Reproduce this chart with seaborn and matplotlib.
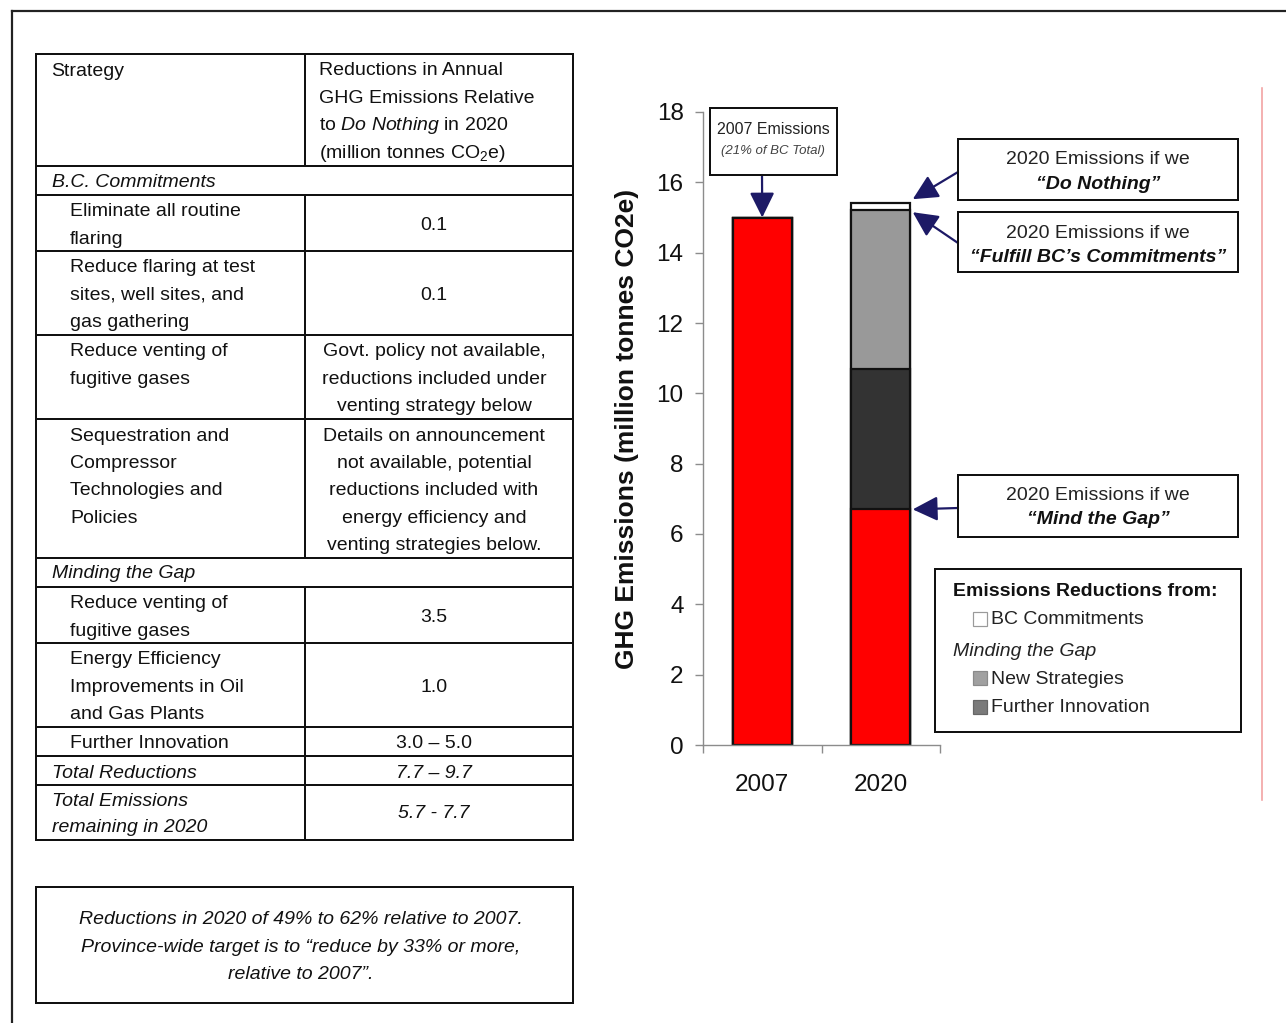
import matplotlib
matplotlib.use("Agg")
import matplotlib.pyplot as plt
from matplotlib import font_manager
from matplotlib.patches import Rectangle
from matplotlib.lines import Line2D
from matplotlib.ticker import FixedLocator
import numpy as np
import pandas as pd
import seaborn as sns

# ---- chart data (million tonnes CO2e) ----
years = ["2007", "2020"]
remaining = [15.0, 6.7]            # emissions left ("Mind the Gap" for 2020)
further_innovation = [0.0, 4.0]
new_strategies = [0.0, 4.5]
bc_commitments = [0.0, 0.2]
y_ticks = [0, 2, 4, 6, 8, 10, 12, 14, 16, 18]

# ---- table text ----
header_left = "Strategy"
header_right = ["Reductions in Annual", "GHG Emissions Relative",
                r"to $\mathit{Do\ Nothing}$ in 2020",
                r"(million tonnes CO$_\mathregular{2}$e)"]
bc_strategies = [["Eliminate all routine", "flaring"],
                 ["Reduce flaring at test", "sites, well sites, and", "gas gathering"],
                 ["Reduce venting of", "fugitive gases"],
                 ["Sequestration and", "Compressor", "Technologies and", "Policies"]]
bc_values = [["0.1"], ["0.1"],
             ["Govt. policy not available,", "reductions included under",
              "venting strategy below"],
             ["Details on announcement", "not available, potential",
              "reductions included with", "energy efficiency and",
              "venting strategies below."]]
gap_strategies = [["Reduce venting of", "fugitive gases"],
                  ["Energy Efficiency", "Improvements in Oil", "and Gas Plants"],
                  ["Further Innovation"]]
gap_values = ["3.5", "1.0", "3.0 \u2013 5.0"]
total_reductions = "7.7 \u2013 9.7"
total_remaining = "5.7 - 7.7"
note_lines = ["Reductions in 2020 of 49% to 62% relative to 2007.",
              "Province-wide target is to \u201creduce by 33% or more,",
              "relative to 2007\u201d."]

sns.set_theme(style="white")

SANS = "Liberation Sans"
try:
    font_manager.findfont(font_manager.FontProperties(family="Liberation Sans Narrow"),
                          fallback_to_default=False)
    NARROW = "Liberation Sans Narrow"
    TFS = 15
except Exception:
    NARROW = "Liberation Sans"
    TFS = 14

plt.rcParams["font.family"] = [SANS, "DejaVu Sans"]
plt.rcParams["mathtext.fontset"] = "custom"
plt.rcParams["mathtext.rm"] = NARROW
plt.rcParams["mathtext.it"] = NARROW + ":italic"
plt.rcParams["mathtext.default"] = "regular"

W, H = 1286, 1023
fig = plt.figure(figsize=(W / 100, H / 100), dpi=100)
fig.patch.set_facecolor("white")


def fx(x):
    return x / W


def fy(y):
    return 1 - y / H


def line(x0, y0, x1, y1, lw=2.0, color="#111111"):
    fig.add_artist(Line2D([fx(x0), fx(x1)], [fy(y0), fy(y1)],
                          transform=fig.transFigure, color=color,
                          lw=lw * 0.72, solid_capstyle="projecting"))


def rect(x0, y0, x1, y1, lw=2.0, ec="#111111", fc="none"):
    fig.add_artist(Rectangle((fx(x0), fy(y1)), fx(x1) - fx(x0), fy(y0) - fy(y1),
                             transform=fig.transFigure, lw=lw * 0.72,
                             ec=ec, fc=fc))


def txt(x, y, s, **kw):
    kw.setdefault("va", "center")
    fig.text(fx(x), fy(y), s, **kw)


# ---- page frame and margin rule ----
line(12, 11, 1286, 11, lw=2.2, color="#222222")
line(12, 11, 12, 1023, lw=2.2, color="#222222")
line(1262, 88, 1262, 800, lw=1.6, color="#f2a0a0")

# ---- table ----
TL, TM, TR = 36, 305, 573
LS = 27.4
DY = 2  # baseline nudge for table text
tkw = dict(family=NARROW, fontsize=TFS, color="#111111")

row_edges = [54, 166, 195, 251, 335, 419, 558, 587, 643, 727, 756, 785, 840]
for y in row_edges:
    line(TL, y, TR, y)
line(TL, 54, TL, 840)
line(TR, 54, TR, 840)
# middle divider, interrupted by the section heading rows
for y0, y1 in [(54, 166), (195, 558), (587, 840)]:
    line(TM, y0, TM, y1)

txt(51, 70 + DY, header_left, ha="left", **tkw)
for i, s in enumerate(header_right):
    txt(319, 69 + DY + i * LS, s, ha="left", **tkw)

txt(52, 180 + DY, "B.C. Commitments", ha="left", style="italic", **tkw)
bc_rows = [(195, 251), (251, 335), (335, 419), (419, 558)]
for (t, b), left, right in zip(bc_rows, bc_strategies, bc_values):
    for i, s in enumerate(left):
        txt(70, t + 15 + DY + i * LS, s, ha="left", **tkw)
    if len(right) == 1:
        txt(434, (t + b) / 2 + DY, right[0], ha="center", **tkw)
    else:
        for i, s in enumerate(right):
            txt(434, t + 15 + DY + i * LS, s, ha="center", **tkw)

txt(52, 572 + DY, "Minding the Gap", ha="left", style="italic", **tkw)
gap_rows = [(587, 643), (643, 727), (727, 756)]
for (t, b), left, val in zip(gap_rows, gap_strategies, gap_values):
    if len(left) == 1:
        txt(70, (t + b) / 2 + DY, left[0], ha="left", **tkw)
    else:
        for i, s in enumerate(left):
            txt(70, t + 15 + DY + i * LS, s, ha="left", **tkw)
    txt(434, (t + b) / 2 + DY, val, ha="center", **tkw)

txt(52, 771 + DY, "Total Reductions", ha="left", style="italic", **tkw)
txt(434, 771 + DY, total_reductions, ha="center", style="italic", **tkw)
txt(52, 799 + DY, "Total Emissions", ha="left", style="italic", **tkw)
txt(52, 826 + DY, "remaining in 2020", ha="left", style="italic", **tkw)
txt(434, 812 + DY, total_remaining, ha="center", style="italic", **tkw)

# ---- note box ----
rect(36, 887, 573, 1003)
for i, s in enumerate(note_lines):
    txt(301, 918 + DY + i * LS, s, ha="center", style="italic", **tkw)

# ---- stacked bar chart ----
ax = fig.add_axes([fx(703), fy(745), fx(940) - fx(703), fy(112) - fy(745)])
stack = np.cumsum([remaining, further_innovation, new_strategies, bc_commitments], axis=0)
layer_colors = ["#ff0000", "#333333", "#999999", "#ffffff"]
for heights, col in reversed(list(zip(stack, layer_colors))):
    df = pd.DataFrame({"year": years, "emissions": heights})
    sns.barplot(data=df, x="year", y="emissions", color=col, saturation=1,
                edgecolor="#111111", linewidth=1.6, width=0.5,
                errorbar=None, ax=ax)

ax.set_xlim(-0.5, 1.5)
ax.set_ylim(0, 18)
ax.set_yticks(y_ticks)
ax.set_xlabel("")
ax.set_ylabel("GHG Emissions (million tonnes CO2e)", fontsize=19,
              fontweight="bold", color="#111111")
ax.yaxis.set_label_coords(-0.268, 0.5)
for side in ["top", "right"]:
    ax.spines[side].set_visible(False)
for side in ["left", "bottom"]:
    ax.spines[side].set_color("#8c8c8c")
    ax.spines[side].set_linewidth(1.0)
ax.tick_params(axis="y", direction="out", length=6, width=1, color="#8c8c8c",
               labelsize=17.5, labelcolor="#111111", pad=8, left=True)
ax.tick_params(axis="x", which="major", length=0, labelsize=17.5,
               labelcolor="#111111", pad=21)
ax.xaxis.set_minor_locator(FixedLocator([-0.5, 0.5, 1.5]))
ax.tick_params(axis="x", which="minor", direction="out", length=6, width=1,
               color="#8c8c8c", bottom=True)
ax.set_facecolor("none")

# ---- callouts ----
NAVY = "#1d1a66"
arrow = dict(arrowstyle="-|>,head_length=0.85,head_width=0.42", color=NAVY,
             lw=1.6, shrinkA=0, shrinkB=0, mutation_scale=18)

rect(710, 108, 837, 175)
txt(773, 129, "2007 Emissions", ha="center", fontsize=11.5, color="#222222")
txt(773, 151, "(21% of BC Total)", ha="center", fontsize=9.5, style="italic",
    color="#444444")
ax.annotate("", xy=(0, remaining[0]), xycoords="data",
            xytext=(762, H - 175), textcoords="figure pixels", arrowprops=arrow)

callouts = [((139, 200), "\u201cDo Nothing\u201d", stack[3][1] + 0.12, (958, 172)),
            ((212, 272), "\u201cFulfill BC\u2019s Commitments\u201d", stack[2][1] - 0.05, (958, 243)),
            ((475, 537), "\u201cMind the Gap\u201d", stack[0][1], (958, 508))]
for (t, b), label, ytip, (tx, ty) in callouts:
    rect(958, t, 1238, b)
    txt(1098, t + 21, "2020 Emissions if we", ha="center", fontsize=14,
        color="#222222")
    txt(1098, t + 45, label, ha="center", fontsize=14, fontweight="bold",
        style="italic", color="#111111")
    ax.annotate("", xy=(1.27, ytip), xycoords="data", xytext=(tx, H - ty),
                textcoords="figure pixels", arrowprops=arrow)

# ---- legend ----
rect(935, 569, 1241, 732)
txt(953, 591, "Emissions Reductions from:", ha="left", fontsize=14,
    fontweight="bold", color="#111111")
rect(973, 612, 987, 626, lw=1.2, ec="#9a9a9a", fc="white")
txt(991, 620, "BC Commitments", ha="left", fontsize=14, color="#222222")
txt(953, 651, "Minding the Gap", ha="left", fontsize=14, style="italic",
    color="#222222")
rect(973, 671, 987, 685, lw=1.2, ec="#8a8a8a", fc="#a0a0a0")
txt(991, 679, "New Strategies", ha="left", fontsize=14, color="#222222")
rect(973, 700, 987, 714, lw=1.2, ec="#666666", fc="#7a7a7a")
txt(991, 708, "Further Innovation", ha="left", fontsize=14, color="#222222")

fig.savefig("out.png", dpi=100, facecolor="white")
